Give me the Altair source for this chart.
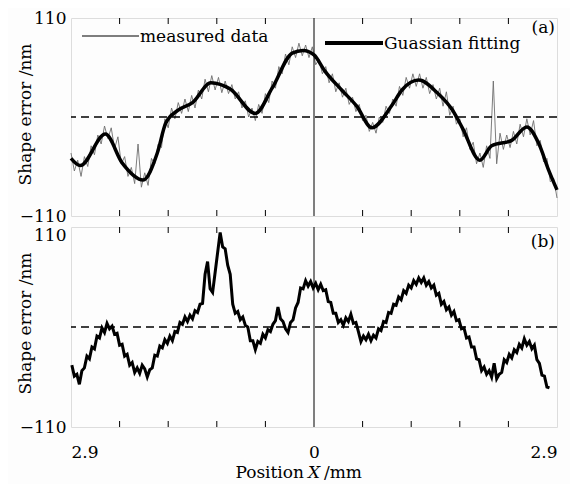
import altair as alt
import numpy as np
import pandas as pd

FONT = "DejaVu Serif"

# Gaussian fitting curve (panel a)
FIT_X = [-2.90, -2.79, -2.49, -2.29, -2.04, -1.87, -1.77, -1.63, -1.45, -1.23, -1.00,
         -0.70, -0.50, -0.26, -0.13, 0.00, 0.13, 0.33, 0.51, 0.69, 0.93, 1.05, 1.25,
         1.47, 1.65, 1.77, 1.98, 2.12, 2.36, 2.54, 2.68, 2.80, 2.90]
FIT_Y = [-46, -54, -19, -51, -70, -40, -7, 7, 16, 38, 31,
         4, 32, 71, 74, 69, 51, 30, 12, -12, 13, 30, 41,
         27, 8, -12, -48, -32, -26, -11, -29, -59, -81]

# measured data (panel a), sampled every 0.04 mm from -2.9
MEAS_X0, MEAS_DX = -2.9, 0.04
MEAS_Y = [-40, -60, -48, -66, -44, -55, -32, -42, -20, -30,
          -10, -24, -12, -35, -22, -52, -44, -66, -56, -74,
          -30, -78, -62, -76, -46, -52, -30, -34, -2, -12,
          10, -2, 16, 4, 20, 6, 24, 10, 30, 20,
          42, 28, 46, 30, 44, 27, 40, 26, 36, 20,
          28, 10, 18, 0, 10, -4, 14, 4, 26, 16,
          40, 32, 56, 48, 70, 58, 78, 66, 82, 68,
          80, 66, 78, 58, 64, 48, 56, 38, 48, 28,
          38, 22, 32, 14, 22, 6, 14, -4, 2, -16,
          -6, -18, 0, -6, 12, 4, 20, 12, 34, 24,
          44, 32, 48, 34, 48, 32, 44, 26, 36, 20,
          32, 12, 28, 2, 12, -8, -2, -22, -12, -36,
          -28, -52, -40, -56, -32, -46, 40, -52, -18, -36,
          -20, -34, -16, -30, -8, -22, -2, -20, -4, -32,
          -26, -50, -46, -72, -68, -90]

# panel b profile, sampled every 0.03 mm from -2.89
B_X0, B_DX = -2.89, 0.03
B_Y = [-42, -54, -52, -63, -48, -45, -32, -35, -22, -24,
       -10, -12, -1, -6, 4, -2, 1, -8, -7, -20,
       -19, -32, -30, -42, -39, -50, -45, -51, -42, -46,
       -55, -47, -45, -31, -32, -21, -23, -14, -18, -10,
       -15, -5, -6, 5, 3, 11, 6, 13, 9, 18,
       16, 25, 26, 58, 72, 42, 38, 60, 82, 104,
       88, 86, 68, 58, 25, 15, 17, 8, 11, 2,
       0, -15, -15, -25, -16, -18, -8, -12, -3, -5,
       3, 7, 22, 9, 6, -2, -6, 5, 8, 21,
       27, 43, 42, 51, 45, 50, 43, 48, 41, 47,
       40, 41, 28, 27, 15, 15, 5, 8, 2, 10,
       6, 14, 4, 5, -5, -16, -10, -14, -8, -15,
       -9, -12, -2, -4, 6, 5, 16, 15, 25, 24,
       33, 30, 40, 37, 46, 43, 51, 47, 54, 49,
       54, 46, 50, 43, 46, 35, 37, 25, 28, 19,
       22, 13, 17, 7, 8, -2, -1, -12, -11, -22,
       -22, -35, -36, -48, -44, -52, -48, -55, -40, -57,
       -52, -50, -36, -39, -30, -34, -25, -28, -19, -23,
       -13, -20, -16, -24, -20, -36, -40, -53, -54, -66,
       -67]

TICK_POS = [-2.32, -1.74, -1.16, -0.58, 0.58, 1.16, 1.74, 2.32]
Y_LABELS = [-110, 110]
X_LABELS = [-2.9, 0, 2.9]
Y_TITLE = "Shape error /nm"
LEGEND = ["measured data", "Guassian fitting"]

W = 486
H_A = 198
H_B = 200

fit_df = pd.DataFrame({"x": FIT_X, "y": FIT_Y})
meas_df = pd.DataFrame({"x": np.round(MEAS_X0 + MEAS_DX * np.arange(len(MEAS_Y)), 3), "y": MEAS_Y})
b_df = pd.DataFrame({"x": np.round(B_X0 + B_DX * np.arange(len(B_Y)), 3), "y": B_Y})
ticks_df = pd.DataFrame({"x": TICK_POS})
zero_y = pd.DataFrame({"y": [0]})
zero_x = pd.DataFrame({"x": [0]})

xscale = alt.Scale(domain=[-2.9, 2.9], nice=False, zero=False)
yscale = alt.Scale(domain=[-110, 110], nice=False, zero=False)

label_y = {"(a)": 10, "(b)": 15}


def y_axis(baseline):
    return alt.Axis(values=Y_LABELS, title=Y_TITLE, domain=False, ticks=False, grid=False,
                    labelFont=FONT, labelFontSize=17, labelColor="black", labelPadding=5,
                    labelBaseline=baseline,
                    titleFont=FONT, titleFontSize=17, titleFontWeight="normal",
                    titleColor="black", titleX=-37, titleY=96)


def panel(h, x_axis, y_ax, lines, label):
    xe = alt.X("x:Q", scale=xscale, axis=x_axis)
    ye = alt.Y("y:Q", scale=yscale, axis=y_ax)
    layers = []
    for df, props in lines:
        layers.append(alt.Chart(df).mark_line(**props).encode(x=xe, y=ye))
    layers.append(alt.Chart(zero_y).mark_rule(color="black", strokeWidth=1.5,
                                              strokeDash=[8, 5]).encode(y=ye))
    layers.append(alt.Chart(zero_x).mark_rule(color="black", strokeWidth=1).encode(x=xe))
    layers.append(alt.Chart(ticks_df).mark_rule(color="black", strokeWidth=1).encode(
        x=xe, y=alt.value(0), y2=alt.value(6)))
    layers.append(alt.Chart(ticks_df).mark_rule(color="black", strokeWidth=1).encode(
        x=xe, y=alt.value(h - 6), y2=alt.value(h)))
    layers.append(alt.Chart(pd.DataFrame({"t": [label]})).mark_text(
        font=FONT, fontSize=17, align="right", baseline="middle", color="black").encode(
        text="t:N", x=alt.value(484), y=alt.value(label_y[label])))
    return layers


top_layers = panel(
    H_A, None, y_axis("middle"),
    [(meas_df, dict(color="#6e6e6e", strokeWidth=0.9)),
     (fit_df, dict(color="black", strokeWidth=3.5, interpolate="monotone"))],
    "(a)")
# legend
top_layers.append(alt.Chart(pd.DataFrame({"t": [LEGEND[0]]})).mark_rule(
    color="black", strokeWidth=1.2).encode(x=alt.value(11), x2=alt.value(68), y=alt.value(18)))
top_layers.append(alt.Chart(pd.DataFrame({"t": [LEGEND[0]]})).mark_text(
    font=FONT, fontSize=17, align="left", baseline="middle", color="black").encode(
    text="t:N", x=alt.value(69), y=alt.value(19)))
top_layers.append(alt.Chart(pd.DataFrame({"t": [LEGEND[1]]})).mark_rule(
    color="black", strokeWidth=4).encode(x=alt.value(254), x2=alt.value(312), y=alt.value(25)))
top_layers.append(alt.Chart(pd.DataFrame({"t": [LEGEND[1]]})).mark_text(
    font=FONT, fontSize=17, align="left", baseline="middle", color="black").encode(
    text="t:N", x=alt.value(313), y=alt.value(26)))

top = alt.layer(*top_layers).properties(width=W, height=H_A)

x_axis_b = alt.Axis(values=X_LABELS, title=None, domain=False, ticks=False, grid=False,
                    labelExpr="format(abs(datum.value), '.1~f')",
                    labelFont=FONT, labelFontSize=17, labelColor="black", labelPadding=17)

bottom_layers = panel(
    H_B, x_axis_b,
    y_axis({"condition": {"test": "datum.value > 0", "value": "top"}, "value": "middle"}),
    [(b_df, dict(color="black", strokeWidth=3))],
    "(b)")
# x-axis title with italic X
for txt, xpos, style, al in [("Position", 233, "normal", "right"),
                             ("X", 237, "italic", "left"),
                             ("/mm", 253, "normal", "left")]:
    bottom_layers.append(alt.Chart(pd.DataFrame({"t": [txt]})).mark_text(
        font=FONT, fontSize=17, fontStyle=style, align=al, baseline="alphabetic",
        color="black").encode(text="t:N", x=alt.value(xpos), y=alt.value(251)))

bottom = alt.layer(*bottom_layers).properties(width=W, height=H_B)

chart = alt.vconcat(top, bottom, spacing=0).properties(
    padding={"left": 7, "top": 0, "right": 5, "bottom": 2}
).configure_view(stroke="black", strokeWidth=1).configure(background="#fdfdfd")

chart.save("out.html", embed_options={"renderer": "svg", "actions": False})
